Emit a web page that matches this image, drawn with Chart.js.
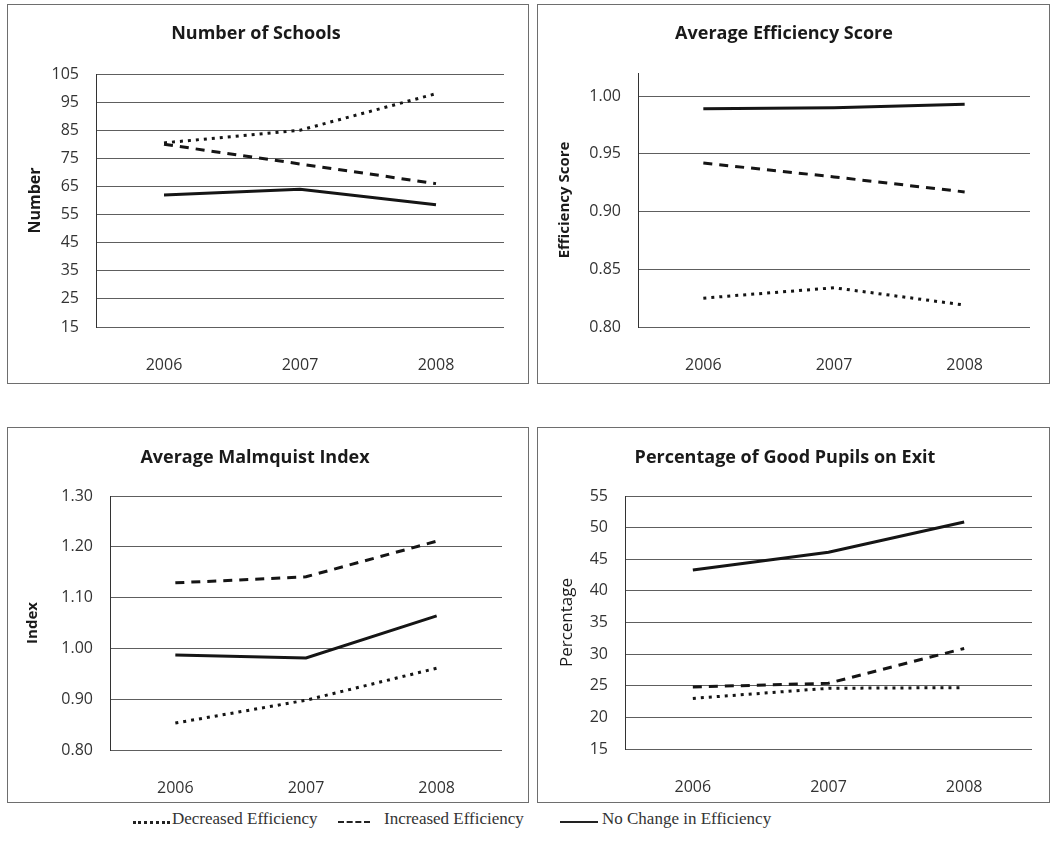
<!DOCTYPE html>
<html>
<head>
<meta charset="utf-8">
<script src="https://cdn.jsdelivr.net/npm/chart.js@4.4.1/dist/chart.umd.min.js"></script>
<style>
  body { margin: 0; background: #fff; width: 1053px; height: 849px; position: relative; overflow: hidden; }
  .panel { position: absolute; border: 1px solid #6e6e6e; }
  .panel canvas { display: block; }
  .legend { position: absolute; top: 809px; font-family: "Liberation Serif", serif; font-size: 17px; color: #333; white-space: nowrap; line-height: 20px; }
  .sample { position: absolute; top: 821px; height: 0; }
</style>
</head>
<body>
<div class="panel" style="left:7px;top:4px;width:520px;height:378px"><canvas id="schools" width="520" height="378"></canvas></div>
<div class="panel" style="left:537px;top:4px;width:511px;height:378px"><canvas id="efficiency" width="511" height="378"></canvas></div>
<div class="panel" style="left:7px;top:427px;width:520px;height:374px"><canvas id="malmquist" width="520" height="374"></canvas></div>
<div class="panel" style="left:537px;top:427px;width:511px;height:374px"><canvas id="pupils" width="511" height="374"></canvas></div>

<div class="sample" style="left:133px;width:37px;border-top:3px dotted #222"></div>
<div class="legend" style="left:172px">Decreased Efficiency</div>
<div class="sample" style="left:338px;width:32px;border-top:2px dashed #222"></div>
<div class="legend" style="left:384px">Increased Efficiency</div>
<div class="sample" style="left:560px;width:38px;border-top:2px solid #222"></div>
<div class="legend" style="left:602px">No Change in Efficiency</div>

<script>
const years = ["2006", "2007", "2008"];

// Number of Schools
const schoolsDecreased = [80.5, 85, 98];
const schoolsIncreased = [80, 73, 66];
const schoolsNoChange = [62, 64, 58.5];

// Average Efficiency Score
const effDecreased = [0.825, 0.834, 0.819];
const effIncreased = [0.942, 0.930, 0.917];
const effNoChange = [0.989, 0.990, 0.993];

// Average Malmquist Index
const malmDecreased = [0.853, 0.898, 0.961];
const malmIncreased = [1.129, 1.141, 1.211];
const malmNoChange = [0.987, 0.981, 1.064];

// Percentage of Good Pupils on Exit
const pupilsDecreased = [23.0, 24.6, 24.7];
const pupilsIncreased = [24.8, 25.4, 30.9];
const pupilsNoChange = [43.3, 46.1, 50.9];

const lineColor = "#151515";
const tickFont = { family: "Open Sans", size: 16 };

function series(dec, inc, noChange) {
    return [
        { label: "Decreased Efficiency", data: dec, borderColor: lineColor, borderWidth: 3, borderDash: [3, 5], pointRadius: 0, tension: 0 },
        { label: "Increased Efficiency", data: inc, borderColor: lineColor, borderWidth: 3, borderDash: [9, 7], pointRadius: 0, tension: 0 },
        { label: "No Change in Efficiency", data: noChange, borderColor: lineColor, borderWidth: 3, pointRadius: 0, tension: 0 }
    ];
}

function makePanel(id, opts) {
    const canvas = document.getElementById(id);
    const W = canvas.width, H = canvas.height;
    const titleLine = 18 * 1.2;
    return new Chart(canvas.getContext("2d"), {
        type: "line",
        data: { labels: years, datasets: opts.datasets },
        options: {
            responsive: false,
            animation: false,
            layout: { padding: { left: 0, right: W - opts.plot.right, top: 0, bottom: 0 } },
            plugins: {
                legend: { display: false },
                tooltip: { enabled: false },
                title: {
                    display: true,
                    text: opts.title,
                    color: "#1a1a1a",
                    font: { family: "Open Sans", size: 18, weight: "bold" },
                    padding: { top: opts.titleY - titleLine / 2, bottom: opts.plot.top - opts.titleY - titleLine / 2 }
                }
            },
            scales: {
                x: {
                    offset: true,
                    grid: { display: false },
                    border: { display: false },
                    ticks: { color: "#333", font: tickFont, padding: 21 },
                    afterFit: s => { s.height = H - opts.plot.bottom; }
                },
                y: {
                    min: opts.min,
                    max: opts.max,
                    grid: { color: "#5e5e5e", lineWidth: 1, drawTicks: false },
                    border: { display: true, color: "#333", width: 1 },
                    ticks: {
                        stepSize: opts.step,
                        color: "#333",
                        font: tickFont,
                        padding: 17,
                        callback: opts.format
                    },
                    afterBuildTicks: opts.filterTicks,
                    title: {
                        display: true,
                        text: opts.yTitle,
                        color: "#1a1a1a",
                        font: opts.yTitleFont,
                        padding: { top: opts.yTitleX - opts.yTitleFont.size * 0.6, bottom: 0 }
                    },
                    afterFit: s => { s.width = opts.plot.left; }
                }
            }
        }
    });
}

makePanel("schools", {
    title: "Number of Schools",
    titleY: 29,
    plot: { left: 88, right: 496, top: 69, bottom: 322 },
    min: 15, max: 105, step: 10,
    format: v => v,
    yTitle: "Number",
    yTitleX: 27,
    yTitleFont: { family: "Open Sans", size: 16, weight: "bold" },
    datasets: series(schoolsDecreased, schoolsIncreased, schoolsNoChange)
});

makePanel("efficiency", {
    title: "Average Efficiency Score",
    titleY: 29,
    plot: { left: 100, right: 492, top: 68, bottom: 322 },
    min: 0.8, max: 1.02, step: 0.05,
    format: v => Number(v).toFixed(2),
    filterTicks: s => { s.ticks = s.ticks.filter(t => t.value <= 1.0001); },
    yTitle: "Efficiency Score",
    yTitleX: 27,
    yTitleFont: { family: "Open Sans", size: 15, weight: "bold" },
    datasets: series(effDecreased, effIncreased, effNoChange)
});

makePanel("malmquist", {
    title: "Average Malmquist Index",
    titleY: 30,
    plot: { left: 102, right: 494, top: 68, bottom: 322 },
    min: 0.8, max: 1.3, step: 0.1,
    format: v => Number(v).toFixed(2),
    yTitle: "Index",
    yTitleX: 25,
    yTitleFont: { family: "Open Sans", size: 15, weight: "bold" },
    datasets: series(malmDecreased, malmIncreased, malmNoChange)
});

makePanel("pupils", {
    title: "Percentage of Good Pupils on Exit",
    titleY: 30,
    plot: { left: 87, right: 494, top: 68, bottom: 321 },
    min: 15, max: 55, step: 5,
    format: v => v,
    yTitle: "Percentage",
    yTitleX: 29,
    yTitleFont: { family: "Open Sans", size: 17 },
    datasets: series(pupilsDecreased, pupilsIncreased, pupilsNoChange)
});
</script>
</body>
</html>
